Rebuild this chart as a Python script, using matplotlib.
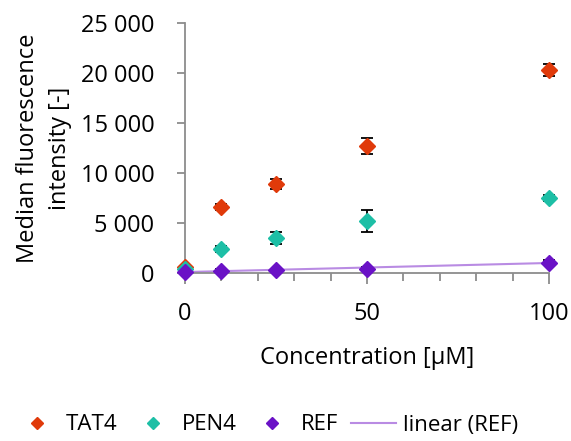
import numpy as np
import matplotlib
matplotlib.use("Agg")
import matplotlib.pyplot as plt
from matplotlib.lines import Line2D
from matplotlib.ticker import FuncFormatter, MultipleLocator

# concentrations [uM]
conc = [0, 10, 25, 50, 100]

tat4 = [600, 6600, 8900, 12700, 20350]
tat4_err = [150, 300, 500, 800, 600]

pen4 = [400, 2450, 3550, 5250, 7500]
pen4_err = [150, 300, 600, 1100, 300]

ref = [100, 250, 300, 450, 1050]
ref_err = [50, 150, 150, 200, 250]

c_tat, c_pen, c_ref, c_lin = '#E03A0A', '#1DBFA6', '#6A12C6', '#B98BE3'

plt.rcParams['font.family'] = ['Open Sans', 'DejaVu Sans']
fs = 17

fig = plt.figure(figsize=(5.71, 4.41), dpi=100)
ax = fig.add_axes([185 / 571, 1 - 273 / 441, 364 / 571, 250 / 441])

ms = 8.5
kw = dict(fmt='D', ms=ms, ecolor='black', elinewidth=1.3, capsize=4, capthick=1.3)
for y, e, c, z in [(tat4, tat4_err, c_tat, 3), (pen4, pen4_err, c_pen, 3), (ref, ref_err, c_ref, 4)]:
    art = ax.errorbar(conc, y, yerr=e, color=c, zorder=z, **kw)
    for a in [art.lines[0]] + list(art.lines[1]) + list(art.lines[2]):
        a.set_clip_on(False)

# linear trendline for REF
k, q = np.polyfit(conc, ref, 1)
xs = np.array([0, 100])
ax.plot(xs, k * xs + q, color=c_lin, lw=1.5, zorder=2)

ax.set_xlim(0, 100)
ax.set_ylim(0, 25000)
ax.xaxis.set_major_locator(MultipleLocator(50))
ax.xaxis.set_minor_locator(MultipleLocator(10))
ax.yaxis.set_major_locator(MultipleLocator(5000))
ax.yaxis.set_major_formatter(FuncFormatter(lambda v, p: f"{int(v):,}".replace(',', ' ')))

for s in ['top', 'right']:
    ax.spines[s].set_visible(False)
for s in ['left', 'bottom']:
    ax.spines[s].set_color('#8c8c8c')
    ax.spines[s].set_linewidth(1.3)
ax.tick_params(axis='both', which='both', color='#8c8c8c', width=1.3, labelsize=fs)
ax.tick_params(axis='y', length=6, pad=16)
ax.tick_params(axis='x', which='major', length=8, pad=13)
ax.tick_params(axis='x', which='minor', length=6)

ax.set_xlabel('Concentration [µM]', fontsize=fs, labelpad=14)
ax.set_ylabel('Median fluorescence\nintensity [-]', fontsize=fs, labelpad=6, linespacing=1.45)

handles = [
    Line2D([], [], ls='none', marker='D', ms=6, color=c_tat),
    Line2D([], [], ls='none', marker='D', ms=6, color=c_pen),
    Line2D([], [], ls='none', marker='D', ms=6, color=c_ref),
    Line2D([], [], color=c_lin, lw=1.5),
]
labels = ['TAT4', 'PEN4', 'REF', 'linear (REF)']
fig.legend(handles, labels, loc='center', bbox_to_anchor=(266 / 571, 1 - 425 / 441), ncol=4,
           frameon=False, fontsize=16, handlelength=2.0, columnspacing=0.6, handletextpad=0.3)

fig.savefig('out.png', dpi=100)
